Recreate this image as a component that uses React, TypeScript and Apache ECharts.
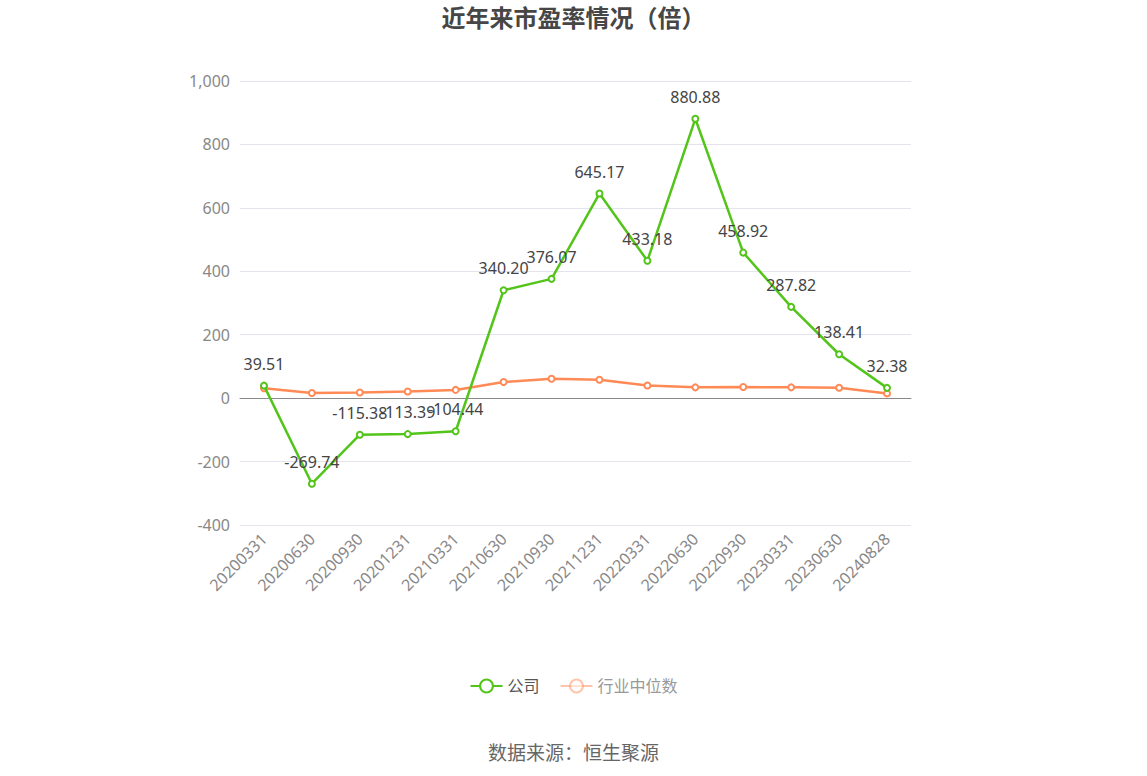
import React, { useEffect, useRef } from 'react';
import * as echarts from 'echarts';

const categories = [
    '20200331', '20200630', '20200930', '20201231', '20210331', '20210630', '20210930',
    '20211231', '20220331', '20220630', '20220930', '20230331', '20230630', '20240828',
];
const companyPE = [
    39.51, -269.74, -115.38, -113.39, -104.44, 340.2, 376.07,
    645.17, 433.18, 880.88, 458.92, 287.82, 138.41, 32.38,
];
const industryPE = [31, 16, 18, 21, 26, 51, 61, 58, 40, 34, 35, 34, 33, 15];

const FONT = "'Noto Sans', 'Noto Sans CJK SC', sans-serif";

const App: React.FC = () => {
    const chartRef = useRef<HTMLDivElement>(null);

    useEffect(() => {
        if (!chartRef.current) return;
        const chart = echarts.init(chartRef.current, undefined, { renderer: 'svg' });

        const option: echarts.EChartsOption = {
            animation: false,
            textStyle: { fontFamily: FONT },
            title: {
                text: '近年来市盈率情况（倍）',
                left: 'center',
                top: 0,
                textStyle: { fontSize: 24, fontWeight: 'bold', color: '#464646', fontFamily: FONT },
            },
            grid: { left: 240, right: 236, top: 81, bottom: 251 },
            legend: {
                bottom: 77,
                left: 'center',
                itemWidth: 32,
                itemHeight: 16,
                itemGap: 20,
                textStyle: { fontSize: 16, color: '#555', fontFamily: FONT },
                data: [
                    { name: '公司' },
                    {
                        name: '行业中位数',
                        itemStyle: { opacity: 0.5 },
                        lineStyle: { opacity: 0.5 },
                        textStyle: { color: '#999' },
                    },
                ],
            },
            graphic: [
                {
                    type: 'text',
                    left: 'center',
                    bottom: 14,
                    style: { text: '数据来源：恒生聚源', fontSize: 19, fill: '#666', fontFamily: FONT },
                },
            ],
            xAxis: {
                type: 'category',
                data: categories,
                axisLine: { lineStyle: { color: '#8a8a8a' } },
                axisTick: { alignWithLabel: true, lineStyle: { color: '#8a8a8a' } },
                axisLabel: { rotate: 45, fontSize: 16, color: '#888', margin: 11 },
            },
            yAxis: {
                type: 'value',
                min: -400,
                max: 1000,
                interval: 200,
                axisLine: { show: false },
                axisTick: { show: false },
                axisLabel: { fontSize: 16, color: '#888', margin: 10 },
                splitLine: { lineStyle: { color: '#e4e4f0' } },
            },
            series: [
                {
                    name: '公司',
                    type: 'line',
                    data: companyPE,
                    symbol: 'emptyCircle',
                    symbolSize: 6,
                    color: '#52c41a',
                    lineStyle: { width: 2.5, color: '#52c41a' },
                    itemStyle: { color: '#52c41a', borderWidth: 2 },
                    label: {
                        show: true,
                        position: 'top',
                        distance: 10,
                        fontSize: 16,
                        color: '#444',
                        formatter: (p: any) => p.value.toFixed(2),
                    },
                    z: 3,
                },
                {
                    name: '行业中位数',
                    type: 'line',
                    data: industryPE,
                    symbol: 'emptyCircle',
                    symbolSize: 6,
                    color: '#ff8a55',
                    lineStyle: { width: 2.5, color: '#ff8a55' },
                    itemStyle: { color: '#ff8a55', borderWidth: 2 },
                    z: 2,
                },
            ],
        };

        chart.setOption(option);
        return () => chart.dispose();
    }, []);

    return <div ref={chartRef} style={{ position: 'fixed', left: 0, top: 0, width: 1147, height: 776, background: '#fff' }} />;
};

export default App;
